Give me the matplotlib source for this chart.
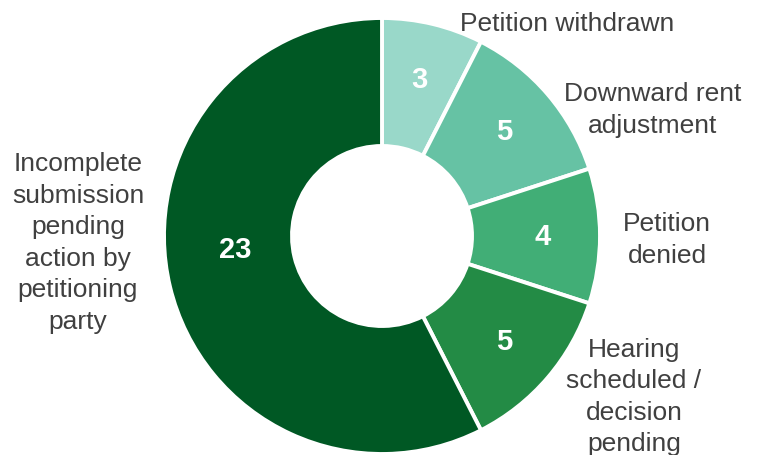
import numpy as np
import matplotlib.pyplot as plt

plt.rcParams['font.family'] = ['Liberation Sans', 'DejaVu Sans']

# petition outcomes, clockwise from the top
categories = ['Petition withdrawn', 'Downward rent\nadjustment', 'Petition\ndenied',
              'Hearing\nscheduled /\ndecision\npending',
              'Incomplete\nsubmission\npending\naction by\npetitioning\nparty']
counts = [3, 5, 4, 5, 23]
colors = ['#99D8C9', '#66C2A4', '#41AE76', '#238B45', '#005824']

# where each category name sits (pixels, y from the top)
label_pos = [(567, 24), (653, 110), (667, 240), (634, 397), (78, 243)]
# (angle, radius) override for the value inside the biggest slice
num_place = [None, None, None, None, (-175, 147)]

W, H = 762, 456
cx, cy = 382, H - 237
r_out, r_in = 218, 90

fig = plt.figure(figsize=(W / 100, H / 100), dpi=100)
ax = fig.add_axes([0, 0, 1, 1])

wedges, _ = ax.pie(counts, colors=colors, startangle=90, counterclock=False,
                   center=(cx, cy), radius=r_out,
                   wedgeprops=dict(width=r_out - r_in, edgecolor='white', linewidth=2.8))

# pie resets the limits, so fix them afterwards
ax.set_xlim(0, W)
ax.set_ylim(0, H)
ax.set_aspect('equal')
ax.axis('off')

for w, n, p in zip(wedges, counts, num_place):
    ang, r = p if p is not None else ((w.theta1 + w.theta2) / 2, 161)
    x = cx + r * np.cos(np.radians(ang))
    y = cy + r * np.sin(np.radians(ang))
    ax.text(x, y, str(n), ha='center', va='center', color='white',
            fontsize=21, fontweight='bold')

for name, (x, y) in zip(categories, label_pos):
    ax.text(x, H - y, name, ha='center', va='center', color='#404040',
            fontsize=19, linespacing=1.39)

fig.savefig('out.png', dpi=100)
